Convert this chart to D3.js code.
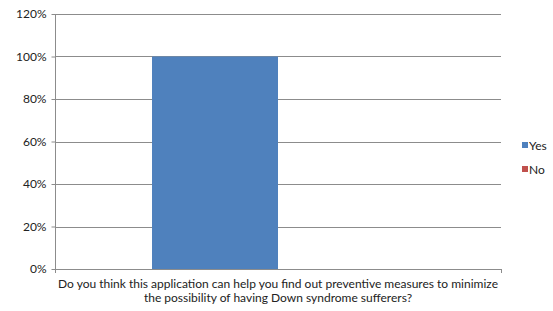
<!DOCTYPE html>
<html><head><meta charset="utf-8">
<script src="https://cdn.jsdelivr.net/npm/d3@7"></script>
<style>body{margin:0;background:#fff}svg{display:block}text{font-family:Lato,"Open Sans",sans-serif;fill:#222}</style>
</head><body><svg id="c" width="553" height="311"></svg>
<script>
const categories = ["Do you think this application can help you find out preventive measures to minimize|the possibility of having Down syndrome sufferers?"];
const seriesNames = ["Yes", "No"];
const yesValues = [1.0];
const noValues = [0.0];
const yTicks = [0, 0.2, 0.4, 0.6, 0.8, 1.0, 1.2];
const colors = ["#4F81BD", "#C0504D"];

(function() {
const svg = d3.select("#c");
const mLeft = 55, mRight = 501, mTop = 14, mBottom = 269;
const y = d3.scaleLinear().domain([0, 1.2]).range([mBottom, mTop]);
const x0 = d3.scaleBand().domain(categories).range([mLeft, mRight]).paddingInner(0).paddingOuter(0.385);
const x1 = d3.scaleBand().domain(seriesNames).range([0, x0.bandwidth()]);

// gridlines
svg.append("g").selectAll("line").data(yTicks.filter(d => d > 0)).join("line")
  .attr("x1", mLeft).attr("x2", mRight).attr("y1", d => Math.round(y(d)) + 0.5).attr("y2", d => Math.round(y(d)) + 0.5)
  .attr("stroke", "#8c8c8c").attr("stroke-width", 1);

// bars
const data = categories.map((c, i) => ({c, vals: [yesValues[i], noValues[i]]}));
const g = svg.append("g").selectAll("g").data(data).join("g").attr("transform", d => `translate(${x0(d.c)},0)`);
g.selectAll("rect").data(d => d.vals.map((v, j) => ({k: seriesNames[j], v, j}))).join("rect")
  .attr("x", d => x1(d.k)).attr("width", x1.bandwidth())
  .attr("y", d => y(d.v)).attr("height", d => mBottom - y(d.v))
  .attr("fill", d => colors[d.j]);

// y axis
const ya = d3.axisLeft(y).tickValues(yTicks).tickFormat(d3.format(".0%")).tickSize(4).tickPadding(5);
const yg = svg.append("g").attr("transform", `translate(${mLeft + 0.5},0)`).call(ya);
yg.select(".domain").attr("stroke", "#8c8c8c").attr("d", `M0,${mTop}V${mBottom}`);
yg.selectAll(".tick line").attr("stroke", "#8c8c8c");
yg.selectAll("text").attr("font-size", 12).style("fill", "#222").attr("font-family", "Lato");

// x axis
svg.append("line").attr("x1", mLeft).attr("x2", mRight).attr("y1", mBottom + 0.5).attr("y2", mBottom + 0.5)
  .attr("stroke", "#8c8c8c");
svg.selectAll(".xt").data([mLeft, mRight]).join("line").attr("class", "xt")
  .attr("x1", d => d + 0.5).attr("x2", d => d + 0.5).attr("y1", mBottom).attr("y2", mBottom + 4).attr("stroke", "#8c8c8c");

const xl = svg.append("g").selectAll("text").data(categories).join("text")
  .attr("x", d => x0(d) + x0.bandwidth() / 2).attr("text-anchor", "middle").attr("font-size", 12);
xl.selectAll("tspan").data(d => d.split("|")).join("tspan")
  .attr("x", function() { return +this.parentNode.getAttribute("x"); })
  .attr("y", (d, i) => 288 + i * 14).text(d => d);

// legend
const lg = svg.append("g").selectAll("g").data(seriesNames).join("g")
  .attr("transform", (d, i) => `translate(522,${146 + i * 24})`);
lg.append("rect").attr("x", 0).attr("y", -4).attr("width", 6).attr("height", 6).attr("fill", (d, i) => colors[i]);
lg.append("text").attr("x", 7).attr("y", 4).attr("font-size", 12).text(d => d);
})();
</script></body></html>
